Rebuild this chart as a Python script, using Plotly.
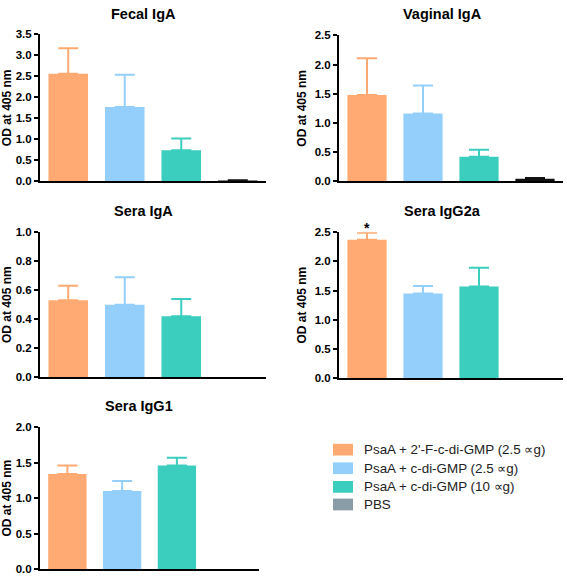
import plotly.graph_objects as go

# ---- data ----
panel_titles = ["Fecal IgA", "Vaginal IgA", "Sera IgA", "Sera IgG2a", "Sera IgG1"]
groups = ["PsaA + 2'-F-c-di-GMP (2.5 ∝g)", "PsaA + c-di-GMP (2.5 ∝g)",
          "PsaA + c-di-GMP (10 ∝g)", "PBS"]

fecal_iga_mean = [2.56, 1.77, 0.74, 0.02]
fecal_iga_err = [0.61, 0.77, 0.28, 0.005]
vaginal_iga_mean = [1.48, 1.16, 0.42, 0.045]
vaginal_iga_err = [0.63, 0.48, 0.12, 0.01]
sera_iga_mean = [0.53, 0.50, 0.42, 0.0]
sera_iga_err = [0.10, 0.19, 0.12, 0.0]
sera_igg2a_mean = [2.37, 1.45, 1.57, 0.0]
sera_igg2a_err = [0.12, 0.13, 0.32, 0.0]
sera_igg1_mean = [1.34, 1.10, 1.46, 0.0]
sera_igg1_err = [0.12, 0.14, 0.11, 0.0]

y_max = [3.5, 2.5, 1.0, 2.5, 2.0]
y_dtick = [0.5, 0.5, 0.2, 0.5, 0.5]

means = [fecal_iga_mean, vaginal_iga_mean, sera_iga_mean, sera_igg2a_mean, sera_igg1_mean]
errs = [fecal_iga_err, vaginal_iga_err, sera_iga_err, sera_igg2a_err, sera_igg1_err]

bar_colors = ["#FFAA72", "#94CFFC", "#3BCDBD", "#111111"]
legend_colors = ["#FFAA72", "#94CFFC", "#3BCDBD", "#8B9CA9"]

W, H = 567, 581
# pixel boxes of each plot area: (x0, x1, ytop, ybottom)
boxes = [(40, 266, 29, 179), (339, 563, 30, 179), (40, 266, 231, 379),
         (339, 563, 231, 380), (40, 259, 430, 575)]
title_pos = [(143, 8), (442, 8), (143, 209), (442, 209), (139, 408)]

fig = go.Figure()
layout = dict(width=W, height=H, margin=dict(l=0, r=0, t=0, b=0),
              plot_bgcolor="white", paper_bgcolor="white", barmode="overlay",
              showlegend=False, font=dict(family="Liberation Sans", color="black"))
annotations = []
shapes = []

for i in range(5):
    sfx = "" if i == 0 else str(i + 1)
    xa, ya = "x" + sfx, "y" + sfx
    for g in range(4):
        fig.add_trace(go.Bar(
            x=[groups[g]], y=[means[i][g]], width=0.7,
            marker=dict(color=bar_colors[g], line=dict(width=0)),
            error_y=dict(type="data", symmetric=False, array=[errs[i][g]],
                         arrayminus=[0], color=bar_colors[g], thickness=2, width=10,
                         visible=errs[i][g] > 0),
            xaxis=xa, yaxis=ya, name=groups[g], hoverinfo="skip"))
    x0, x1, yt, yb = boxes[i]
    layout["xaxis" + sfx] = dict(domain=[x0 / W, x1 / W], anchor=ya,
                                 range=[-0.5, 3.5], showticklabels=False, ticks="",
                                 showgrid=False, zeroline=False, showline=True,
                                 linecolor="black", linewidth=2,
                                 categoryorder="array", categoryarray=groups)
    nt = int(round(y_max[i] / y_dtick[i]))
    layout["yaxis" + sfx] = dict(domain=[(H - yb) / H, (H - yt) / H], anchor=xa,
                                 range=[0, y_max[i]],
                                 tickvals=[k * y_dtick[i] for k in range(nt + 1)],
                                 tickformat=".1f", ticks="outside", ticklen=4, tickwidth=2,
                                 tickcolor="black", showgrid=False, zeroline=False,
                                 showline=True, linecolor="black", linewidth=2,
                                 tickfont=dict(size=11.5, weight="bold", color="black"),
                                 title=dict(text="OD at 405 nm", standoff=5,
                                            font=dict(size=12, weight="bold")))
    tx, ty = title_pos[i]
    annotations.append(dict(text=panel_titles[i], x=tx / W, y=(H - ty) / H,
                            xref="paper", yref="paper", xanchor="center",
                            yanchor="middle", showarrow=False,
                            font=dict(size=14.5, weight="bold", color="black")))

# significance marker on Sera IgG2a
annotations.append(dict(text="*", x=groups[0], y=(H - 227) / H, xref="x4", yref="paper",
                        xanchor="center", yanchor="middle", showarrow=False,
                        font=dict(size=14, weight="bold", color="black")))

# legend (drawn manually)
legend_rows = [453, 472, 491, 509]
for g in range(4):
    cy = legend_rows[g]
    shapes.append(dict(type="rect", xref="paper", yref="paper",
                       x0=333 / W, x1=353 / W, y0=(H - cy - 6) / H, y1=(H - cy + 6) / H,
                       fillcolor=legend_colors[g], line=dict(width=0)))
    annotations.append(dict(text=groups[g], x=362 / W, y=(H - cy) / H,
                            xref="paper", yref="paper", xanchor="left",
                            yanchor="middle", showarrow=False,
                            font=dict(size=13.4, color="#222222")))

layout["annotations"] = annotations
layout["shapes"] = shapes
fig.update_layout(**layout)
fig.write_html("out.html", config={"displayModeBar": False},
               post_script="document.body.style.margin='0';document.body.style.overflow='hidden';")
